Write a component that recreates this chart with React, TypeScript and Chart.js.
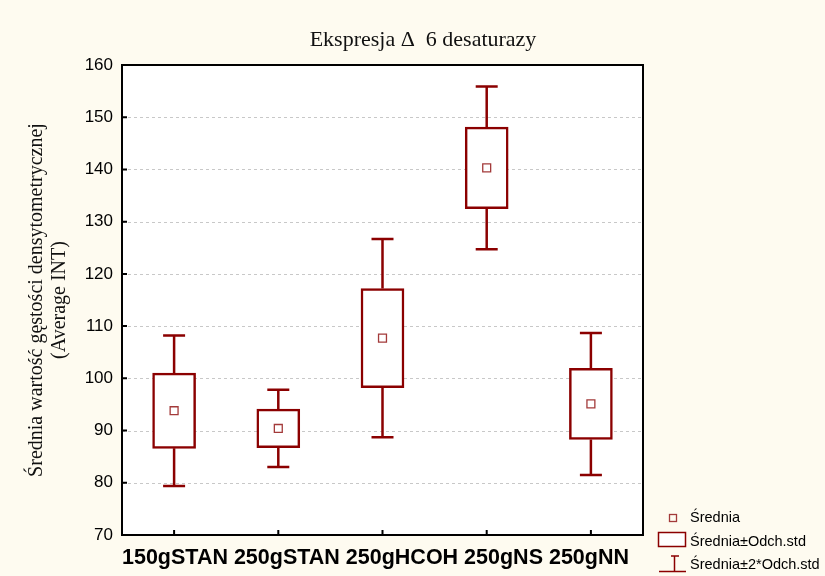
import React, { useEffect, useRef } from 'react';
import { Chart, registerables } from 'chart.js';

Chart.register(...registerables);

const categories = ['150gSTAN', '250gSTAN', '250gHCOH', '250gNS', '250gNN'];
const means = [93.8, 90.4, 107.7, 140.3, 95.1];
const stdDevs = [7.2, 3.7, 9.5, 7.8, 6.8];
const yMin = 70;
const yMax = 160;
const yStep = 10;
const titleText = 'Ekspresja Δ  6 desaturazy';
const yTitleLines = ['Średnia wartość gęstości densytometrycznej', '(Average INT)'];
const legendLabels = ['Średnia', 'Średnia±Odch.std', 'Średnia±2*Odch.std'];

const BG = '#fefbf0';
const RED = '#8b0000';
const MEAN_RED = '#a33a3a';
const SANS = '"Liberation Sans", Arial, sans-serif';
const SERIF = '"Liberation Serif", "Times New Roman", serif';

const boxes = means.map((m, i) => [m - stdDevs[i], m + stdDevs[i]]);

const customPlugin = {
  id: 'statisticaStyle',
  beforeDraw(chart: any) {
    const { ctx, chartArea: a, width, height } = chart;
    ctx.save();
    ctx.fillStyle = BG;
    ctx.fillRect(0, 0, width, height);
    ctx.fillStyle = '#ffffff';
    ctx.fillRect(a.left, a.top, a.right - a.left, a.bottom - a.top);
    const y = chart.scales.y;
    ctx.strokeStyle = '#c8c8c8';
    ctx.lineWidth = 1;
    ctx.setLineDash([3, 3]);
    y.ticks.forEach((t: any) => {
      if (t.value <= yMin || t.value >= yMax) return;
      const py = Math.round(y.getPixelForValue(t.value)) + 0.5;
      ctx.beginPath();
      ctx.moveTo(a.left, py);
      ctx.lineTo(a.right, py);
      ctx.stroke();
    });
    ctx.restore();
  },
  beforeDatasetsDraw(chart: any) {
    const { ctx } = chart;
    const x = chart.scales.x;
    const y = chart.scales.y;
    ctx.save();
    ctx.strokeStyle = RED;
    ctx.lineWidth = 2.5;
    means.forEach((m, i) => {
      const cx = x.getPixelForValue(i);
      const sd = stdDevs[i];
      const pairs = [
        [m + sd, m + 2 * sd],
        [m - sd, m - 2 * sd],
      ];
      pairs.forEach(([from, to]) => {
        const y1 = y.getPixelForValue(from);
        const y2 = y.getPixelForValue(to);
        ctx.beginPath();
        ctx.moveTo(cx, y1);
        ctx.lineTo(cx, y2);
        ctx.moveTo(cx - 11, y2);
        ctx.lineTo(cx + 11, y2);
        ctx.stroke();
      });
    });
    ctx.restore();
  },
  afterDraw(chart: any) {
    const { ctx, chartArea: a } = chart;
    const x = chart.scales.x;
    const y = chart.scales.y;
    ctx.save();
    // frame
    ctx.strokeStyle = '#000';
    ctx.lineWidth = 2;
    ctx.strokeRect(a.left, a.top, a.right - a.left, a.bottom - a.top);
    // ticks
    ctx.beginPath();
    y.ticks.forEach((t: any) => {
      const py = y.getPixelForValue(t.value);
      ctx.moveTo(a.left, py);
      ctx.lineTo(a.left + 5, py);
    });
    categories.forEach((_, i) => {
      const px = x.getPixelForValue(i);
      ctx.moveTo(px, a.bottom);
      ctx.lineTo(px, a.bottom - 5);
    });
    ctx.stroke();

    // title
    ctx.fillStyle = '#111';
    ctx.font = `22px ${SERIF}`;
    ctx.textAlign = 'center';
    ctx.textBaseline = 'alphabetic';
    ctx.fillText(titleText, 423, 46);

    // y title
    ctx.save();
    ctx.translate(0, (a.top + a.bottom) / 2);
    ctx.rotate(-Math.PI / 2);
    ctx.font = `20px ${SERIF}`;
    ctx.textBaseline = 'middle';
    ctx.fillText(yTitleLines[0], 0, 37);
    ctx.fillText(yTitleLines[1], 0, 60);
    ctx.restore();

    // x labels
    ctx.font = `bold 21.5px ${SANS}`;
    ctx.textAlign = 'left';
    ctx.textBaseline = 'alphabetic';
    ctx.fillStyle = '#000';
    ctx.fillText(categories.join(' '), a.left, 564);

    // legend
    ctx.font = `14.5px ${SANS}`;
    ctx.textBaseline = 'middle';
    ctx.fillStyle = '#000';
    ctx.fillText(legendLabels[0], 690, 518);
    ctx.fillText(legendLabels[1], 690, 542);
    ctx.fillText(legendLabels[2], 690, 565);

    ctx.strokeStyle = MEAN_RED;
    ctx.lineWidth = 1.3;
    ctx.strokeRect(669.5, 514.5, 7, 7);

    ctx.strokeStyle = RED;
    ctx.lineWidth = 1.5;
    ctx.fillStyle = '#fff';
    ctx.fillRect(658.5, 532.5, 27, 14);
    ctx.strokeRect(658.5, 532.5, 27, 14);

    ctx.beginPath();
    ctx.moveTo(671, 556);
    ctx.lineTo(679, 556);
    ctx.moveTo(674.5, 556);
    ctx.lineTo(674.5, 571);
    ctx.moveTo(659, 571.5);
    ctx.lineTo(686, 571.5);
    ctx.stroke();
    ctx.restore();
  },
};

export default function App() {
  const ref = useRef<HTMLCanvasElement>(null);
  useEffect(() => {
    document.body.style.margin = '0';
    const chart = new Chart(ref.current as HTMLCanvasElement, {
      type: 'bar',
      data: {
        labels: categories,
        datasets: [
          {
            type: 'bar',
            label: legendLabels[1],
            data: boxes as any,
            backgroundColor: '#ffffff',
            borderColor: RED,
            borderWidth: 2.5,
            borderSkipped: false,
            barThickness: 43,
            order: 2,
          },
          {
            type: 'line',
            label: legendLabels[0],
            data: means,
            showLine: false,
            pointStyle: 'rect',
            pointRadius: 5.6,
            pointBorderWidth: 1.3,
            pointBorderColor: MEAN_RED,
            pointBackgroundColor: '#ffffff',
            order: 1,
          } as any,
        ],
      },
      options: {
        responsive: false,
        animation: false,
        layout: { padding: { left: 0, right: 182, top: 65, bottom: 0 } },
        plugins: {
          legend: { display: false },
          tooltip: { enabled: false },
          title: { display: false },
        },
        scales: {
          x: {
            type: 'category',
            offset: true,
            grid: { display: false, drawTicks: false },
            border: { display: false },
            ticks: { display: false },
            afterFit: (s: any) => {
              s.height = 41;
            },
          },
          y: {
            min: yMin,
            max: yMax,
            ticks: {
              stepSize: yStep,
              font: { family: SANS, size: 17 },
              color: '#000',
              padding: 9,
            },
            grid: { display: false, drawTicks: false },
            border: { display: false },
            afterFit: (s: any) => {
              s.width = 122;
            },
          },
        },
      },
      plugins: [customPlugin],
    });
    return () => chart.destroy();
  }, []);
  return (
    <div style={{ position: 'absolute', left: 0, top: 0, width: 825, height: 576 }}>
      <canvas ref={ref} width={825} height={576} style={{ display: 'block', width: 825, height: 576 }} />
    </div>
  );
}
